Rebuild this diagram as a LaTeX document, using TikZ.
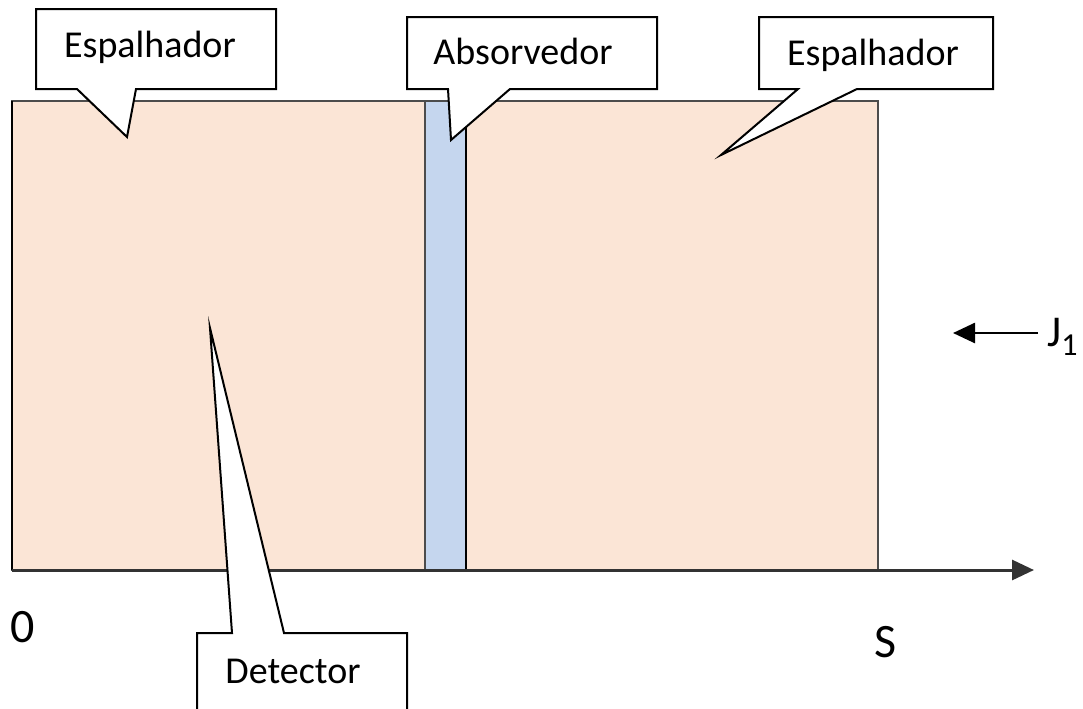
\documentclass[tikz,border=0pt]{standalone}
\usepackage{fontspec}
\setmainfont{Carlito}
\usetikzlibrary{arrows.meta}
\definecolor{peach}{HTML}{FBE5D6}
\definecolor{paleblue}{HTML}{C5D6EE}
\begin{document}
\begin{tikzpicture}[x=0.5pt,y=-0.5pt,
  layer/.style={draw=black!70,line width=0.6pt},
  bubble/.style={draw=black,line width=1pt,fill=white,line join=miter,miter limit=20},
  lbl/.style={font=\fontsize{19}{22}\selectfont,anchor=base,inner sep=0pt},
  axislbl/.style={font=\fontsize{24}{28}\selectfont,anchor=base,inner sep=0pt},
  arrowtip/.style={-{Triangle[length=11pt,width=10pt]}}]
\useasboundingbox (0,0) rectangle (1083,708);
\clip (0,0) rectangle (1083,708);

% slab: scatterer | absorber | scatterer
\fill[peach] (12,101) rectangle (425,570);
\fill[paleblue] (425,101) rectangle (466,570);
\fill[peach] (466,101) rectangle (878,570);
\draw[layer] (12,101) rectangle (878,570);
\draw[layer] (425,101) -- (425,570);
\draw[black,line width=1.2pt] (12,101) -- (12,570);
\draw[black,line width=1.3pt] (466,101) -- (466,570);

% position axis
\coordinate (o) at (12,570);
\coordinate (xend) at (1034,570);
\draw[black!80,line width=1.5pt,arrowtip] (o) -- (xend);
\node[axislbl] (zero) at (23,642) {0};
\node[axislbl] (send) at (886,657) {S};

% incident current
\coordinate (jstart) at (1038,333);
\coordinate (jend) at (953,333);
\draw[black,line width=1.3pt,arrowtip] (jstart) -- (jend);
\node[font=\fontsize{22}{26}\selectfont,anchor=base west,inner sep=0pt] (jlabel) at (1047,346)
  {J\raisebox{-4.5pt}{\fontsize{16}{18}\selectfont 1}};

% callout: left scatterer
\filldraw[bubble] (36,9) -- (276,9) -- (276,89) -- (136,89) -- (127,137) -- (77,89) -- (36,89) -- cycle;
\node[lbl] (espA) at (150,57) {Espalhador};

% callout: absorber
\filldraw[bubble] (407,17) -- (657,17) -- (657,89) -- (510,89) -- (451,140) -- (448,89) -- (407,89) -- cycle;
\node[lbl] (absorb) at (523,64) {Absorvedor};

% callout: right scatterer
\filldraw[bubble] (759,17) -- (993,17) -- (993,89) -- (857,89) -- (721,155) -- (798,89) -- (759,89) -- cycle;
\node[lbl] (espB) at (873,65) {Espalhador};

% callout: detector
\filldraw[bubble] (197,720) -- (197,633) -- (232,633) -- (210,328) -- (284,633) -- (407,633) -- (407,720);
\node[lbl] (detector) at (293,683) {Detector};
\end{tikzpicture}
\end{document}
